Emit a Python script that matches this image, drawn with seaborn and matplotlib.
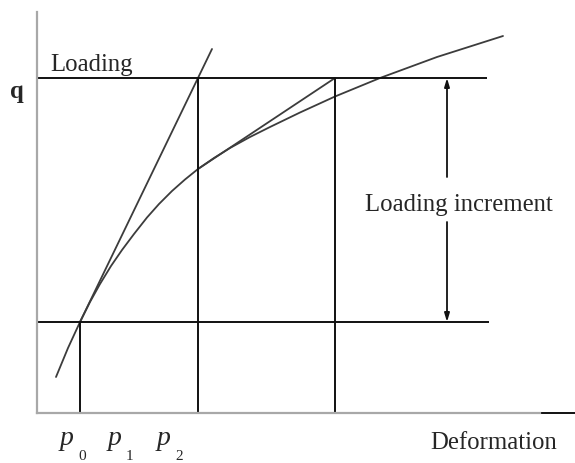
import numpy as np
import matplotlib
matplotlib.use("Agg")
import matplotlib.pyplot as plt
import pandas as pd
import seaborn as sns

# curve (deformation vs load, arbitrary units)
deform = [19, 31, 43, 53, 63, 74, 85, 97, 110, 122, 135, 148, 161, 177, 193, 213, 233, 263, 298, 343, 400, 466]
load = [36, 65, 91, 111, 129, 147, 163, 179, 195.5, 209, 222, 233.5, 244, 255, 265, 276, 286, 300.5, 316.5, 335, 356, 377]

# tangent lines
tan1_x = [43, 175]
tan1_y = [91, 364]
tan2_x = [161, 298]
tan2_y = [244, 335]

# guide levels
q_start = 91
q_load = 335
p_marks = [43, 161, 298]
p_labels = ["0", "1", "2"]
p_label_x = [23, 71, 120]

sns.set_style("white")
plt.rcParams['font.family'] = ['Liberation Serif', 'DejaVu Serif']

fig = plt.figure(figsize=(5.75, 4.63), dpi=100)
ax = fig.add_axes([37/575, 50/463, 503/575, 401/463])

curve = pd.DataFrame({"deform": deform, "load": load})
sns.lineplot(data=curve, x="deform", y="load", sort=False, color="#3c3c3c", lw=1.3, ax=ax)
sns.lineplot(x=tan1_x, y=tan1_y, color="#3c3c3c", lw=1.3, ax=ax)
sns.lineplot(x=tan2_x, y=tan2_y, color="#3c3c3c", lw=1.3, ax=ax)

# horizontal and vertical guides
ax.hlines(q_load, 0, 450, color="#111111", lw=1.4)
ax.hlines(q_start, 0, 452, color="#111111", lw=1.4)
ax.vlines(p_marks[0], 0, q_start, color="#111111", lw=1.4)
ax.vlines(p_marks[1], 0, q_load, color="#111111", lw=1.4)
ax.vlines(p_marks[2], 0, q_load, color="#111111", lw=1.4)

# loading increment arrow
arr = dict(arrowstyle="-|>,head_length=0.5,head_width=0.15", color="#111111", lw=1.3, shrinkA=0, shrinkB=0)
ax.annotate("", xy=(410, q_load), xytext=(410, 236), arrowprops=arr)
ax.annotate("", xy=(410, q_start), xytext=(410, 191), arrowprops=arr)
ax.text(328, 202, "Loading increment", fontsize=17.8, va="baseline", ha="left")

ax.text(13, 342, "Loading", fontsize=17.8, va="baseline", ha="left")
ax.text(-27, 315, "q", fontsize=17.8, fontweight="bold", va="baseline", ha="left")
ax.text(393, -36, "Deformation", fontsize=17.8, va="baseline", ha="left", clip_on=False)

for lx, lab in zip(p_label_x, p_labels):
    ax.text(lx, -32, "p", fontsize=20, style="italic", va="baseline", ha="left", clip_on=False)
    ax.text(lx + 18, -47, lab, fontsize=11, va="baseline", ha="left", clip_on=False)

# extension of the x axis
ax.plot([503, 538], [0, 0], color="#111111", lw=1.4, clip_on=False)

ax.set_xlim(0, 503)
ax.set_ylim(0, 401)
ax.set_xticks([])
ax.set_yticks([])
ax.set_xlabel("")
ax.set_ylabel("")
for s in ["top", "right"]:
    ax.spines[s].set_visible(False)
for s in ["left", "bottom"]:
    ax.spines[s].set_color("#a8a8a8")
    ax.spines[s].set_linewidth(1.6)

fig.savefig("out.png", dpi=100)
